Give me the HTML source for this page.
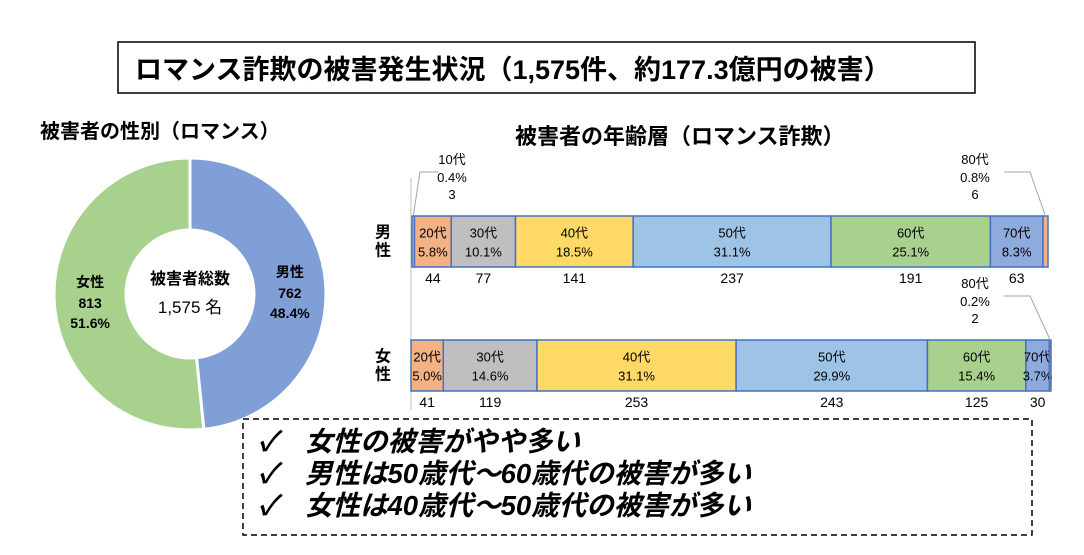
<!DOCTYPE html>
<html><head><meta charset="utf-8"><style>
body{margin:0;width:1084px;height:550px;background:#fff;overflow:hidden;font-family:"Liberation Sans","Noto Sans CJK JP",sans-serif;}
svg text{font-family:"Liberation Sans","Noto Sans CJK JP",sans-serif;}
</style></head><body>
<svg width="1084" height="550">
<rect x="118" y="42" width="857" height="51" fill="#fff" stroke="#000" stroke-width="1.5"/>
<text x="135" y="79" font-size="27" font-weight="bold">ロマンス詐欺の被害発生状況（1,575件、約177.3億円の被害）</text>
<text x="40" y="138" font-size="20" font-weight="bold">被害者の性別（ロマンス）</text>
<text x="515" y="144" font-size="22" font-weight="bold">被害者の年齢層（ロマンス詐欺）</text>
<g id="donut"></g>
<g id="bars"></g>
<rect x="243" y="419" width="789" height="116" fill="#fff" stroke="#000" stroke-width="1.5" stroke-dasharray="6,4"/>
<g font-size="27.5" font-style="italic" font-weight="bold">
<text x="258" y="451"><tspan>✓</tspan><tspan x="305">女性の被害がやや多い</tspan></text>
<text x="258" y="483"><tspan>✓</tspan><tspan x="305">男性は50歳代～60歳代の被害が多い</tspan></text>
<text x="258" y="515"><tspan>✓</tspan><tspan x="305">女性は40歳代～50歳代の被害が多い</tspan></text>
</g>
</svg>
<script>
const genders=["男性","女性"];
const genderCounts=[762,813];
const genderPcts=["48.4%","51.6%"];
const ageLabels=["10代","20代","30代","40代","50代","60代","70代","80代"];
const maleCounts=[3,44,77,141,237,191,63,6];
const malePcts=["0.4%","5.8%","10.1%","18.5%","31.1%","25.1%","8.3%","0.8%"];
const femaleCounts=[0,41,119,253,243,125,30,2];
const femalePcts=["0.0%","5.0%","14.6%","31.1%","29.9%","15.4%","3.7%","0.2%"];
const NS="http://www.w3.org/2000/svg";
function mk(t,a,p,txt){const e=document.createElementNS(NS,t);for(const k in a)e.setAttribute(k,a[k]);if(txt!==undefined)e.textContent=txt;p.appendChild(e);return e;}
const dg=document.getElementById('donut');
const cx=190,cy=294,R=136,r=64;
const tot=genderCounts.reduce((a,b)=>a+b,0);
const dcol=["#7f9fd6","#a9d18e"];
let a0=-Math.PI/2;
genderCounts.forEach((v,i)=>{
 const a1=a0+v/tot*2*Math.PI;const lg=(a1-a0)>Math.PI?1:0;
 const p=`M${cx+R*Math.cos(a0)},${cy+R*Math.sin(a0)}A${R},${R} 0 ${lg} 1 ${cx+R*Math.cos(a1)},${cy+R*Math.sin(a1)}L${cx+r*Math.cos(a1)},${cy+r*Math.sin(a1)}A${r},${r} 0 ${lg} 0 ${cx+r*Math.cos(a0)},${cy+r*Math.sin(a0)}Z`;
 const s=mk('path',{d:p,fill:dcol[i],stroke:'#fff','stroke-width':3},dg);
 
 
 const am=(a0+a1)/2,lx=cx+100*Math.cos(am),ly=cy+100*Math.sin(am);
 const t=mk('text',{x:lx,y:ly-12,'font-size':14,'font-weight':'bold','text-anchor':'middle'},dg);
 
 
 mk('tspan',{x:lx,dy:0},t,genders[i]);mk('tspan',{x:lx,dy:21},t,String(genderCounts[i]));mk('tspan',{x:lx,dy:20},t,genderPcts[i]);
 a0=a1;
});
const c1=mk('text',{x:cx,y:cy-10,'font-size':16,'font-weight':'bold','text-anchor':'middle'},dg,'被害者総数');


const c2=mk('text',{x:cx,y:cy+19,'font-size':17,'text-anchor':'middle'},dg,'1,575 名');


const bg=document.getElementById('bars');
const bcol=["#f4b183","#f4b183","#bfbfbf","#ffd966","#9dc3e6","#a9d18e","#8faadc","#f4b183"];
const ax=mk('line',{x1:411,y1:178,x2:411,y2:410,stroke:'#bfbfbf','stroke-width':1},bg);


function drawBar(counts,pcts,x0,x1,y,h,name,label){
 const tt=counts.reduce((a,b)=>a+b,0);let x=x0;
 const lb=mk('text',{x:383,y:y+h/2-4,'font-size':16,'font-weight':'bold','text-anchor':'middle'},bg);
 
 
 mk('tspan',{x:383,dy:0},lb,label[0]);mk('tspan',{x:383,dy:18},lb,label[1]);
 counts.forEach((v,i)=>{
  const w=v/tt*(x1-x0);if(v===0)return;
  const rc=mk('rect',{x:x,y:y,width:w,height:h,fill:bcol[i],stroke:'#4472c4','stroke-width':1.5},bg);
  
  
  const mx=x+w/2;
  if(i>=1&&i<=6){
   const t=mk('text',{x:mx,y:y+h/2-4,'font-size':13,'text-anchor':'middle'},bg);
   
   
   mk('tspan',{x:mx,dy:0},t,ageLabels[i]);mk('tspan',{x:mx,dy:19},t,pcts[i]);
   const n=mk('text',{x:mx,y:y+h+16,'font-size':14,'text-anchor':'middle'},bg,String(v));
   
   
  } else {
   const lx=i===0?452:975;
   const t=mk('text',{x:lx,y:y-52,'font-size':13,'text-anchor':'middle'},bg);
   
   
   mk('tspan',{x:lx,dy:0},t,ageLabels[i]);mk('tspan',{x:lx,dy:18},t,pcts[i]);mk('tspan',{x:lx,dy:17},t,String(v));
   const pl=i===0?`${mx},${y} ${420},${y-44} ${438},${y-44}`:`${mx},${y} ${1030},${y-44} ${1004},${y-44}`;
   const ln=mk('polyline',{points:pl,fill:'none',stroke:'#a6a6a6','stroke-width':1},bg);
   
   
  }
  x+=w;
 });
}
drawBar(maleCounts,malePcts,412,1048,216,51,'male',['男','性']);
drawBar(femaleCounts,femalePcts,411,1051,340,51,'female',['女','性']);
</script>
</body></html>
